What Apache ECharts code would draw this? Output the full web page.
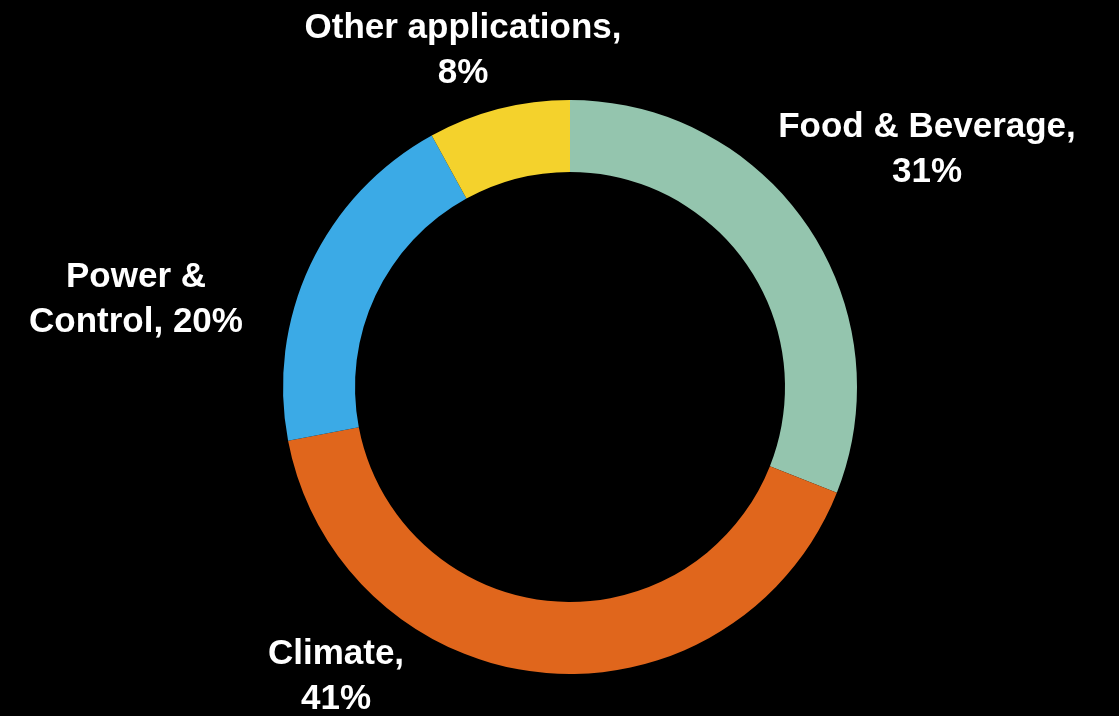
<!DOCTYPE html>
<html>
<head>
<meta charset="utf-8">
<script src="https://cdn.jsdelivr.net/npm/echarts@6/dist/echarts.min.js"></script>
<style>
	html, body { margin: 0; padding: 0; background: #000; }
	#chart { width: 1119px; height: 716px; }
</style>
</head>
<body>
<div id="chart"></div>
<script>
// share of applications, clockwise from the top
var categories = ["Food & Beverage", "Climate", "Power & Control", "Other applications"]
var shares = [31, 41, 20, 8]
var labelTexts = ["Food & Beverage,\n31%", "Climate,\n41%", "Power &\nControl, 20%", "Other applications,\n8%"]
var colors = ["#94c5ae", "#e0661c", "#3baae6", "#f4d22c"]

// where each label sits (center of the text block)
var labelSpots = [[927, 150], [336, 677], [136, 300], [463, 51]]

var chart = echarts.init(document.getElementById("chart"))
chart.setOption({
	backgroundColor: "#000",
	animation: false,
	series: [
		{
			type: "pie",
			center: [570, 387],
			radius: [215, 287],
			startAngle: 90,
			clockwise: true,
			color: colors,
			itemStyle: { borderWidth: 0 },
			label: {
				show: true,
				position: "outside",
				formatter(p) {
					return labelTexts[p.dataIndex]
				},
				color: "#fff",
				fontFamily: "'Liberation Sans', Arial, sans-serif",
				fontWeight: "bold",
				fontSize: 35,
				lineHeight: 45,
				align: "center",
				overflow: "none"
			},
			labelLine: { show: false },
			labelLayout(params) {
				var s = labelSpots[params.dataIndex]
				return { x: s[0], y: s[1], align: "center", verticalAlign: "middle" }
			},
			data: categories.map(function (c, i) {
				return { name: c, value: shares[i] }
			})
		}
	]
})
</script>
</body>
</html>
